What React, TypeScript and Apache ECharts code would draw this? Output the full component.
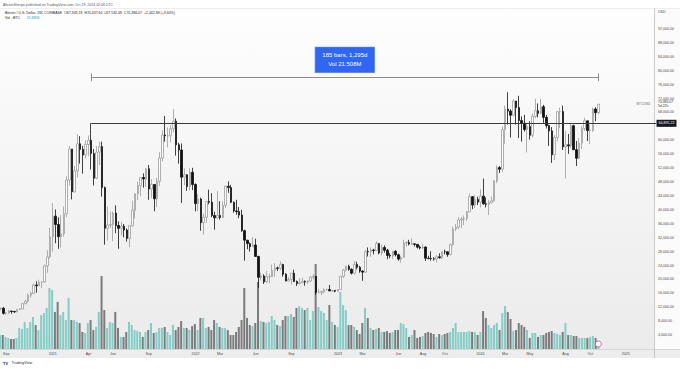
import React, { useEffect, useRef } from 'react';
import * as echarts from 'echarts';

// Weekly candles, COINBASE:BTCUSD, first week starting Monday 2020-08-24
const firstWeek = [2020, 7, 24];
const weekSlots = 240; // visible weekly slots incl. empty space on the right

const opens = [
  11650, 11710, 10250, 10330, 10930, 10780, 10670, 11380, 11500, 13030,
  13740, 15480, 15960, 18400, 18190, 19150, 19280, 23880, 26480, 32200,
  38200, 35800, 32300, 33100, 38900, 48600, 57500, 45200, 51200, 59000,
  57400, 55800, 58800, 60000, 56200, 49100, 56600, 58200, 46400, 34700,
  35600, 35800, 39100, 35500, 34700, 35300, 34200, 31800, 35400, 39900,
  44600, 47000, 49300, 48900, 51800, 46000, 47300, 43200, 48200, 54900,
  61500, 61300, 61300, 63300, 65500, 58700, 57200, 49400, 50100, 46700,
  50800, 47300, 41800, 43100, 36300, 37900, 42400, 42200, 38400, 37700,
  38400, 37800, 41300, 46800, 46400, 42200, 39700, 39500, 38500, 34000,
  31300, 30300, 29400, 29900, 26600, 20600, 21000, 19300, 20800, 20800,
  22600, 23300, 23200, 24300, 21500, 19550, 19990, 21800, 19400, 18800,
  19050, 19450, 19250, 19560, 20630, 20900, 16300, 16300, 16450, 17100,
  17100, 16750, 16840, 16600, 17100, 20900, 22700, 23750, 22900, 21800,
  24300, 23500, 22400, 22100, 28000, 27950, 28450, 28300, 30300, 27600,
  29200, 28400, 26900, 26750, 28080, 27100, 25850, 26330, 30470, 30600,
  30170, 30250, 30080, 29280, 29050, 29300, 26100, 26000, 25950, 25850,
  26500, 26250, 27980, 27950, 27150, 29990, 34500, 35000, 37100, 37380,
  37450, 39450, 43800, 41380, 43000, 42250, 43950, 41730, 41580, 42050,
  42600, 48300, 52150, 51700, 63100, 68950, 68400, 67200, 71300, 69400,
  65700, 64950, 63100, 64000, 61450, 66900, 68500, 67750, 69650, 66600,
  64250, 62700, 55850, 60800, 68200, 68250, 58100, 58700, 58400, 64200,
  57300, 54850, 59200, 63350, 65600, 62800, 62850, 69000, 67943.18,
];

const closes = [
  11710, 10250, 10330, 10930, 10780, 10670, 11380, 11500, 13030, 13740,
  15480, 15960, 18400, 18190, 19150, 19280, 23880, 26480, 32200, 38200,
  35800, 32300, 33100, 38900, 48600, 57500, 45200, 51200, 59000, 57400,
  55800, 58800, 60000, 56200, 49100, 56600, 58200, 46400, 34700, 35600,
  35800, 39100, 35500, 34700, 35300, 34200, 31800, 35400, 39900, 44600,
  47000, 49300, 48900, 51800, 46000, 47300, 43200, 48200, 54900, 61500,
  61300, 61300, 63300, 65500, 58700, 57200, 49400, 50100, 46700, 50800,
  47300, 41800, 43100, 36300, 37900, 42400, 42200, 38400, 37700, 38400,
  37800, 41300, 46800, 46400, 42200, 39700, 39500, 38500, 34000, 31300,
  30300, 29400, 29900, 26600, 20600, 21000, 19300, 20800, 20800, 22600,
  23300, 23200, 24300, 21500, 19550, 19990, 21800, 19400, 18800, 19050,
  19450, 19250, 19560, 20630, 20900, 16300, 16300, 16450, 17100, 17100,
  16750, 16840, 16600, 17100, 20900, 22700, 23750, 22900, 21800, 24300,
  23500, 22400, 22100, 28000, 27950, 28450, 28300, 30300, 27600, 29200,
  28400, 26900, 26750, 28080, 27100, 25850, 26330, 30470, 30600, 30170,
  30250, 30080, 29280, 29050, 29300, 26100, 26000, 25950, 25850, 26500,
  26250, 27980, 27950, 27150, 29990, 34500, 35000, 37100, 37380, 37450,
  39450, 43800, 41380, 43000, 42250, 43950, 41730, 41580, 42050, 42600,
  48300, 52150, 51700, 63100, 68950, 68400, 67200, 71300, 69400, 65700,
  64950, 63100, 64000, 61450, 66900, 68500, 67750, 69650, 66600, 64250,
  62700, 55850, 60800, 68200, 68250, 58100, 58700, 58400, 64200, 57300,
  54850, 59200, 63350, 65600, 62800, 62850, 69000, 67943.18, 70386.07,
];

const lows = [
  11130, 9900, 9880, 10250, 10130, 10380, 10530, 11220, 11400, 12900,
  13300, 14800, 15800, 16200, 18100, 17600, 19000, 21900, 26000, 28000,
  30400, 28800, 29200, 32300, 37900, 47000, 43000, 44900, 49300, 53300,
  50400, 54800, 55500, 51600, 47000, 48800, 52900, 43800, 30000, 31200,
  34800, 31000, 33300, 28800, 32700, 32100, 30900, 29300, 35200, 37500,
  42800, 43900, 46400, 46600, 42900, 43400, 39600, 40800, 46900, 53900,
  59600, 58000, 59400, 62300, 55600, 53300, 42000, 47100, 45500, 45600,
  45700, 39600, 39600, 34000, 32900, 36300, 41600, 37900, 34300, 37500,
  37200, 37600, 40500, 44900, 41900, 39200, 38600, 37600, 33700, 25400,
  28700, 28000, 29300, 26600, 17600, 19700, 18700, 19000, 18900, 20800,
  20700, 22400, 22700, 20800, 19500, 19550, 18500, 19300, 18100, 18500,
  19000, 18200, 18650, 19200, 20050, 15600, 16000, 15500, 16000, 16750,
  16500, 16350, 16300, 16550, 17100, 20400, 22300, 22500, 21400, 21400,
  22900, 21900, 19600, 21900, 26600, 26500, 27200, 28200, 27200, 26900,
  27700, 25800, 26100, 25900, 26600, 25400, 24800, 26250, 29500, 29800,
  29950, 29500, 28900, 28600, 28700, 25300, 25800, 25400, 25400, 24900,
  26000, 25900, 27200, 26500, 26950, 29700, 33900, 34500, 34800, 35600,
  36800, 39300, 40200, 40500, 41400, 40750, 41500, 40700, 38500, 41900,
  42300, 47700, 50600, 50900, 59000, 64500, 60800, 66900, 64500, 60700,
  59600, 62500, 56500, 60200, 60800, 66300, 66600, 67500, 65000, 63400,
  58400, 53500, 54300, 59700, 63500, 57200, 49000, 56100, 57800, 57200,
  52600, 54600, 57500, 62700, 59800, 58900, 62400, 65500, 67532.48,
];

const highs = [
  11800, 12090, 10600, 11180, 10980, 10960, 11490, 11720, 13240, 14090,
  15960, 16480, 18800, 19480, 19920, 19430, 24300, 28400, 34800, 41950,
  40100, 37850, 38500, 41000, 49700, 58350, 57500, 52600, 61800, 61200,
  58400, 60000, 61400, 64900, 57500, 58400, 59600, 59600, 46700, 40900,
  39500, 39500, 41300, 36700, 36600, 35950, 34650, 35500, 42600, 44800,
  48100, 49400, 50500, 52000, 52900, 48800, 47400, 49200, 56600, 62900,
  67000, 63700, 64300, 69000, 66300, 59300, 59100, 51900, 50200, 51900,
  52100, 47600, 44500, 43500, 38900, 42600, 45800, 44800, 39500, 45400,
  42500, 42400, 47000, 48200, 47200, 42400, 42900, 40800, 40000, 34300,
  31300, 30600, 32200, 31700, 26800, 21900, 21500, 22400, 21600, 24300,
  24700, 23700, 25200, 24500, 21800, 20600, 21800, 22800, 19700, 20400,
  20500, 19700, 19700, 21000, 21480, 21000, 17200, 16800, 17400, 17400,
  18400, 16950, 16950, 17200, 21000, 23000, 23950, 24250, 23200, 25250,
  25100, 23900, 22600, 28500, 29200, 29200, 28800, 31000, 30500, 30000,
  29800, 28800, 27600, 28200, 28450, 27400, 26800, 31400, 31000, 31400,
  31800, 30350, 30100, 29750, 30200, 29500, 26800, 28100, 26400, 27000,
  27500, 28000, 28600, 28000, 30300, 35200, 35950, 37950, 37950, 38400,
  39700, 44700, 44000, 44300, 43800, 45900, 49000, 43600, 42900, 43800,
  48600, 52800, 52600, 64000, 70000, 73800, 68900, 71800, 71300, 72800,
  66900, 67300, 64800, 65500, 67700, 71900, 70600, 71900, 70200, 67300,
  64500, 63800, 61400, 68400, 69400, 70000, 62700, 61800, 65000, 64500,
  59800, 60600, 64100, 66500, 65600, 64500, 69400, 69500, 70437.6,
];

// Weekly volume, thousands of BTC
const volumes = [
  81, 81, 70, 64, 58, 58, 64, 122, 116, 157,
  122, 157, 186, 139, 110, 197, 209, 238, 354, 342,
  215, 273, 197, 215, 168, 296, 168, 168, 157, 151,
  99, 93, 151, 168, 110, 128, 215, 423, 226, 122,
  157, 151, 215, 122, 70, 70, 99, 157, 139, 110,
  104, 99, 70, 99, 110, 151, 93, 99, 122, 122,
  128, 99, 81, 139, 110, 128, 162, 122, 122, 110,
  133, 145, 110, 180, 180, 122, 128, 110, 168, 151,
  128, 122, 122, 110, 81, 81, 99, 128, 168, 354,
  180, 139, 133, 151, 389, 162, 157, 151, 157, 191,
  168, 139, 133, 168, 191, 191, 203, 186, 238, 249,
  238, 226, 238, 168, 220, 493, 244, 220, 209, 168,
  255, 157, 139, 128, 331, 255, 226, 139, 139, 128,
  110, 87, 151, 238, 180, 122, 110, 116, 122, 99,
  99, 104, 93, 99, 110, 110, 151, 145, 122, 70,
  81, 110, 64, 70, 75, 93, 99, 93, 87, 70,
  87, 81, 87, 93, 99, 122, 151, 99, 99, 99,
  99, 104, 99, 99, 81, 99, 220, 180, 139, 122,
  139, 151, 110, 209, 249, 215, 174, 104, 110, 151,
  139, 128, 110, 64, 93, 93, 70, 81, 81, 93,
  99, 104, 93, 87, 81, 99, 151, 81, 81, 75,
  75, 64, 64, 64, 64, 70, 75, 64, 15.885,
];

const tickWeeks = [
  '2020-09-07', '2021-01-04', '2021-04-05', '2021-06-07', '2021-09-06',
  '2022-01-03', '2022-03-07', '2022-06-06', '2022-09-05', '2023-01-02',
  '2023-03-06', '2023-06-05', '2023-08-07', '2023-10-02', '2024-01-01',
  '2024-03-04', '2024-05-06', '2024-08-05', '2024-10-07', '2025-01-06',
];
const tickTexts = [
  'Sep', '2021', 'Apr', 'Jun', 'Sep', '2022', 'Mar', 'Jun', 'Sep', '2023',
  'Mar', 'Jun', 'Aug', 'Oct', '2024', 'Mar', 'May', 'Aug', 'Oct', '2025',
];

const resistanceLevel = 64895.22;
const resistanceFromWeek = 33;
const measureLevel = 78100;
const measureFrom = 33;
const measureTo = 218;

const FONT = '"Liberation Sans", Arial, sans-serif';
const TEAL = '#82cdc5';
const GREY = '#7b7b7b';

export default function App() {
  const ref = useRef<HTMLDivElement>(null);

  useEffect(() => {
    document.body.style.margin = '0';
    if (!ref.current) return;
    const chart = echarts.init(ref.current, null, { renderer: 'svg' });

    const start = Date.UTC(firstWeek[0], firstWeek[1], firstWeek[2]);
    const cats: string[] = [];
    for (let i = 0; i < weekSlots; i++) {
      cats.push(new Date(start + i * 7 * 86400000).toISOString().slice(0, 10));
    }

    const candleData = opens.map((o, i) => [o, closes[i], lows[i], highs[i]]);
    const volData = volumes.map((v, i) => ({
      value: v,
      itemStyle: { color: closes[i] >= opens[i] ? TEAL : GREY },
    }));
    const last = closes.length - 1;
    const lastClose = closes[last];
    const fmt = (v: number) =>
      v.toLocaleString('en-US', { minimumFractionDigits: 2, maximumFractionDigits: 2 });

    const measureStyle = { color: '#8c8c8c', width: 1, type: 'solid' as const };
    const hiddenLine = { color: 'rgba(255,255,255,0)', width: 0.01, type: 'solid' as const };
    const firstCat = cats[0];
    const lastCat = cats[weekSlots - 1];

    const option: any = {
      animation: false,
      backgroundColor: 'transparent',
      textStyle: { fontFamily: FONT },
      grid: [
        { left: 0, top: 29, width: 656, height: 320 },
        { left: 0, top: 249, width: 656, height: 100 },
      ],
      xAxis: [
        {
          type: 'category',
          gridIndex: 0,
          data: cats,
          boundaryGap: false,
          axisLine: { show: false },
          axisTick: { show: false },
          splitLine: { show: false },
          axisLabel: {
            interval: (_i: number, v: string) => tickWeeks.includes(v),
            formatter: (v: string) => {
              const k = tickWeeks.indexOf(v);
              return k >= 0 ? tickTexts[k] : '';
            },
            fontSize: 3.6,
            color: '#4a4a4a',
            margin: 3,
            fontFamily: FONT,
          },
        },
        {
          type: 'category',
          gridIndex: 1,
          data: cats,
          boundaryGap: false,
          show: false,
        },
      ],
      yAxis: [
        {
          type: 'value',
          gridIndex: 0,
          position: 'right',
          min: 0,
          max: 92000,
          interval: 4000,
          splitLine: { show: false },
          axisLine: { show: false },
          axisTick: { show: false },
          axisLabel: {
            formatter: (v: number) => (v === 0 ? '' : fmt(v)),
            fontSize: 3.6,
            color: '#4a4a4a',
            margin: 2,
            fontFamily: FONT,
          },
          name: 'USD',
          nameLocation: 'end',
          nameGap: 15,
          nameTextStyle: { fontSize: 3.6, color: '#4a4a4a', align: 'left', padding: [0, 0, 0, 2], fontFamily: FONT },
        },
        { type: 'value', gridIndex: 1, min: 0, max: 580, show: false },
      ],
      series: [
        {
          type: 'bar',
          name: 'Vol',
          xAxisIndex: 1,
          yAxisIndex: 1,
          data: volData,
          barWidth: 2,
          z: 1,
          markPoint: {
            silent: true,
            animation: false,
            data: [
              {
                coord: [cats[last], 0],
                symbol: 'circle',
                symbolSize: 6,
                symbolOffset: [0, -5],
                itemStyle: { color: '#ffffff', borderColor: '#d44fb0', borderWidth: 0.9 },
                label: { show: false },
              },
            ],
          },
        },
        {
          type: 'candlestick',
          name: 'BTCUSD',
          xAxisIndex: 0,
          yAxisIndex: 0,
          data: candleData,
          barWidth: 2,
          clip: false,
          z: 3,
          itemStyle: {
            color: '#ffffff',
            borderColor: '#9c9c9c',
            color0: '#111111',
            borderColor0: '#111111',
            borderWidth: 0.8,
          },
          markPoint: {
            silent: true,
            animation: false,
            data: [
              {
                coord: [lastCat, lastClose],
                symbol: 'circle',
                symbolSize: 1,
                itemStyle: { color: 'rgba(0,0,0,0)' },
                label: {
                  show: true,
                  position: 'left',
                  distance: 5,
                  formatter: 'BTCUSD',
                  fontSize: 3.4,
                  color: '#6a6a6a',
                  fontFamily: FONT,
                },
              },
              {
                coord: [lastCat, resistanceLevel],
                symbol: 'circle',
                symbolSize: 1,
                itemStyle: { color: 'rgba(0,0,0,0)' },
                label: {
                  show: true,
                  position: 'right',
                  distance: 0,
                  formatter: fmt(resistanceLevel),
                  backgroundColor: '#131722',
                  color: '#ffffff',
                  fontSize: 3.6,
                  padding: [1.5, 2, 1.5, 2],
                  fontFamily: FONT,
                },
              },
              {
                coord: [lastCat, lastClose],
                symbol: 'circle',
                symbolSize: 1,
                itemStyle: { color: 'rgba(0,0,0,0)' },
                label: {
                  show: true,
                  position: 'right',
                  distance: 1.5,
                  formatter: fmt(lastClose) + '\n5d 22h',
                  color: '#3a3a3a',
                  fontSize: 3.4,
                  lineHeight: 4.6,
                  fontFamily: FONT,
                },
              },
            ],
          },
          markLine: {
            silent: true,
            animation: false,
            symbol: ['none', 'none'],
            data: [
              [
                {
                  coord: [cats[resistanceFromWeek], resistanceLevel],
                  lineStyle: { color: '#3a3a3a', width: 1.2, type: 'solid' },
                  label: { show: false },
                },
                { coord: [lastCat, resistanceLevel] },
              ],
              [
                {
                  coord: [cats[measureFrom], measureLevel],
                  lineStyle: measureStyle,
                  label: {
                    show: true,
                    position: 'middle',
                    distance: 5,
                    formatter: '185 bars, 1,295d\nVol 21.508M',
                    backgroundColor: '#2f66f6',
                    borderColor: '#6f93f8',
                    borderWidth: 0.6,
                    color: '#ffffff',
                    fontSize: 6,
                    lineHeight: 9,
                    padding: [3.5, 7, 3.5, 7],
                    fontFamily: FONT,
                  },
                },
                { coord: [cats[measureTo], measureLevel] },
              ],
              [
                { coord: [cats[measureFrom], measureLevel - 1100], lineStyle: measureStyle, label: { show: false } },
                { coord: [cats[measureFrom], measureLevel + 1100] },
              ],
              [
                { coord: [cats[measureTo], measureLevel - 1100], lineStyle: measureStyle, label: { show: false } },
                { coord: [cats[measureTo], measureLevel + 1100] },
              ],
            ],
          },
        },
      ],
      graphic: [
        {
          type: 'rect',
          z: -20,
          silent: true,
          shape: { x: 0, y: 8, width: 654, height: 341 },
          style: {
            fill: new echarts.graphic.LinearGradient(0, 0, 0, 1, [
              { offset: 0, color: '#fefefe' },
              { offset: 1, color: '#ebebeb' },
            ]),
          },
        },
        {
          type: 'rect',
          z: -20,
          silent: true,
          shape: { x: 654, y: 8, width: 26, height: 341 },
          style: { fill: '#fbfbfb' },
        },
        {
          type: 'rect',
          z: -20,
          silent: true,
          shape: { x: 0, y: 349, width: 680, height: 9 },
          style: { fill: '#ededed' },
        },
        {
          type: 'line',
          z: -5,
          silent: true,
          shape: { x1: 654.5, y1: 8, x2: 654.5, y2: 358 },
          style: { stroke: '#bcbcbc', lineWidth: 0.8 },
        },
        {
          type: 'line',
          z: -5,
          silent: true,
          shape: { x1: 0, y1: 349.5, x2: 680, y2: 349.5 },
          style: { stroke: '#cfcfcf', lineWidth: 0.8 },
        },
        {
          type: 'line',
          z: -5,
          silent: true,
          shape: { x1: 0, y1: 8.5, x2: 680, y2: 8.5 },
          style: { stroke: '#e3e3e3', lineWidth: 0.6 },
        },
        {
          type: 'text',
          x: 3,
          y: 5,
          style: {
            text: 'AltcoinSherpa published on TradingView.com, Oct 29, 2024 02:06 UTC',
            fontSize: 3.5,
            fill: '#555555',
            verticalAlign: 'middle',
            fontFamily: FONT,
          },
        },
        {
          type: 'text',
          x: 5,
          y: 13,
          style: {
            text: 'Bitcoin / U.S. Dollar, 1W, COINBASE  O67,943.18  H70,437.60  L67,532.48  C70,386.07  +2,442.88 (+3.60%)',
            fontSize: 3.5,
            fill: '#2a2a2a',
            verticalAlign: 'middle',
            fontFamily: FONT,
          },
        },
        {
          type: 'text',
          x: 5,
          y: 18,
          style: {
            text: '{a|Vol · BTC}  {b|15.885K}',
            verticalAlign: 'middle',
            rich: {
              a: { fontSize: 3.5, fill: '#2a2a2a', fontFamily: FONT },
              b: { fontSize: 3.5, fill: '#26a69a', fontFamily: FONT },
            },
          },
        },
        {
          type: 'text',
          x: 3,
          y: 363,
          style: {
            text: '{a|TV} {b|TradingView}',
            verticalAlign: 'middle',
            rich: {
              a: { fontSize: 4, fontWeight: 'bold', fill: '#131722', fontFamily: FONT },
              b: { fontSize: 3.8, fill: '#333333', fontFamily: FONT },
            },
          },
        },
      ],
    };
    void hiddenLine;
    void firstCat;

    chart.setOption(option);
    return () => chart.dispose();
  }, []);

  return (
    <div
      ref={ref}
      style={{ position: 'fixed', left: 0, top: 0, width: 680, height: 369, background: '#ffffff' }}
    />
  );
}
